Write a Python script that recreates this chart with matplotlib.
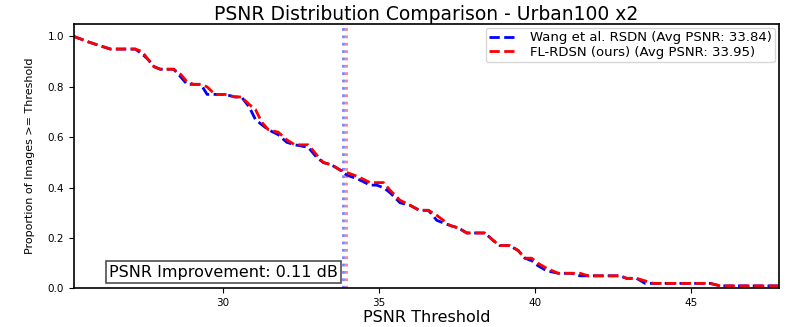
import matplotlib
matplotlib.use("Agg")
import matplotlib.pyplot as plt

# PSNR thresholds and proportion of images with PSNR >= threshold
thresholds = [25.23, 25.45, 25.66, 25.90, 26.15, 26.40, 26.95, 27.20, 27.42, 27.60,
              27.80, 28.00, 28.43, 28.65, 28.86, 29.07, 29.30, 29.50, 29.75, 30.07,
              30.39, 30.60, 30.85, 31.05, 31.25, 31.46, 31.78, 32.05, 32.31, 32.74,
              33.01, 33.22, 33.49, 33.76, 33.97, 34.20, 34.40, 34.72, 34.93, 35.15,
              35.36, 35.68, 36.00, 36.30, 36.59, 36.86, 37.07, 37.28, 37.55, 37.82,
              38.14, 38.40, 38.67, 38.88, 39.20, 39.47, 39.68, 39.90, 40.10, 40.38,
              40.75, 41.18, 41.45, 41.71, 42.73, 42.94, 43.26, 43.53, 43.80, 45.62,
              45.94, 47.82]
wang_prop = [1.00, 0.99, 0.98, 0.97, 0.96, 0.95, 0.95, 0.95, 0.93, 0.91,
             0.88, 0.87, 0.87, 0.84, 0.81, 0.81, 0.81, 0.77, 0.77, 0.77,
             0.76, 0.76, 0.72, 0.67, 0.65, 0.63, 0.61, 0.58, 0.57, 0.56,
             0.52, 0.50, 0.49, 0.47, 0.45, 0.44, 0.43, 0.41, 0.41, 0.40,
             0.38, 0.34, 0.33, 0.31, 0.31, 0.27, 0.26, 0.25, 0.24, 0.22,
             0.22, 0.22, 0.19, 0.17, 0.17, 0.15, 0.12, 0.11, 0.09, 0.07,
             0.06, 0.06, 0.05, 0.05, 0.05, 0.04, 0.04, 0.02, 0.02, 0.02,
             0.01, 0.01]
ours_prop = [1.00, 0.99, 0.98, 0.97, 0.96, 0.95, 0.95, 0.95, 0.94, 0.91,
             0.88, 0.87, 0.87, 0.85, 0.82, 0.81, 0.81, 0.80, 0.77, 0.77,
             0.76, 0.76, 0.73, 0.71, 0.66, 0.63, 0.62, 0.59, 0.57, 0.57,
             0.53, 0.50, 0.49, 0.47, 0.46, 0.45, 0.44, 0.42, 0.42, 0.42,
             0.39, 0.35, 0.33, 0.31, 0.31, 0.29, 0.27, 0.25, 0.24, 0.22,
             0.22, 0.22, 0.19, 0.17, 0.17, 0.15, 0.12, 0.12, 0.10, 0.08,
             0.06, 0.06, 0.06, 0.05, 0.05, 0.04, 0.04, 0.03, 0.02, 0.02,
             0.01, 0.01]
wang_avg = 33.84
ours_avg = 33.95

fig = plt.figure(figsize=(7.94, 3.27), dpi=100)
ax = fig.add_axes([0.093, 0.118, 0.888, 0.809])

ax.plot(thresholds, wang_prop, "b--", linewidth=2,
        label=f"Wang et al. RSDN (Avg PSNR: {wang_avg:.2f})")
ax.plot(thresholds, ours_prop, "r--", linewidth=2,
        label=f"FL-RDSN (ours) (Avg PSNR: {ours_avg:.2f})")
ax.axvline(wang_avg, color="b", linestyle=":", linewidth=2, alpha=0.5)
ax.axvline(ours_avg, color="r", linestyle=":", linewidth=2, alpha=0.5)

ax.text(0.05, 0.045, f"PSNR Improvement: {ours_avg - wang_avg:.2f} dB",
        transform=ax.transAxes, fontsize=11.5,
        bbox=dict(boxstyle="square,pad=0.2", facecolor="white", edgecolor="#222222",
                  linewidth=1.2, alpha=0.8))

ax.set_xlim(thresholds[0], thresholds[-1])
ax.set_ylim(0, 1.05)
ax.set_title("PSNR Distribution Comparison - Urban100 x2", fontsize=13.5, pad=3)
ax.set_xlabel("PSNR Threshold", fontsize=11.5, labelpad=1)
ax.set_ylabel("Proportion of Images >= Threshold", fontsize=8, labelpad=9)
ax.tick_params(labelsize=7.5)
ax.legend(loc="upper right", fontsize=9.5, borderpad=0.25, labelspacing=0.15,
          handlelength=2.1, handletextpad=1.0, borderaxespad=0.3)
for s in ax.spines.values():
    s.set_linewidth(1.2)

fig.savefig("out.png", dpi=100)
